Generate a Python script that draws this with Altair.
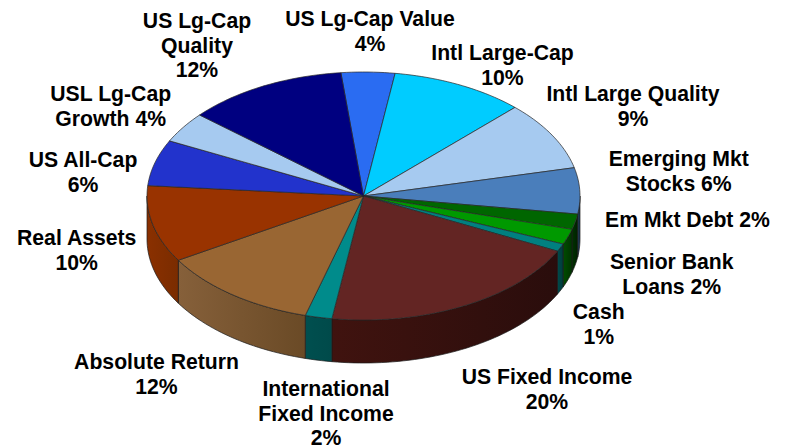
import math
import altair as alt

# ---- chart values ----
NAMES = ["US Lg-Cap Value", "Intl Large-Cap", "Intl Large Quality", "Emerging Mkt Stocks",
         "Em Mkt Debt", "Senior Bank Loans", "Cash", "US Fixed Income", "International Fixed Income",
         "Absolute Return", "Real Assets", "US All-Cap", "USL Lg-Cap Growth", "US Lg-Cap Quality"]
SHARES = [4, 10, 9, 6, 2, 2, 1, 20, 2, 12, 10, 6, 4, 12]
LABELS = ["US Lg-Cap Value\n4%", "Intl Large-Cap\n10%", "Intl Large Quality\n9%", "Emerging Mkt\nStocks 6%",
          "Em Mkt Debt 2%", "Senior Bank\nLoans 2%", "Cash\n1%", "US Fixed Income\n20%",
          "International\nFixed Income\n2%", "Absolute Return\n12%", "Real Assets\n10%", "US All-Cap\n6%",
          "USL Lg-Cap\nGrowth 4%", "US Lg-Cap\nQuality\n12%"]
TOP_COLORS = ["#2a6cf2", "#00ccff", "#a6caf0", "#4a7ebb", "#006600", "#009900", "#008080",
              "#632523", "#008b8b", "#996633", "#993300", "#2233cc", "#a6caf0", "#000080"]
WALL_LEFT = ["#1a3fa0", "#007a99", "#64798f", "#2a4a70", "#003300", "#004d00", "#004a4a",
             "#40130f", "#004f4f", "#86603a", "#8a3000", "#142080", "#64798f", "#000050"]
WALL_RIGHT = ["#1a3fa0", "#007a99", "#64798f", "#1a3048", "#001f00", "#003300", "#003c3c",
              "#2a0d0c", "#004a4a", "#6a4a26", "#7a2c00", "#142080", "#64798f", "#000050"]

# ---- layout of the tilted pie (pixels of the chart area) ----
OFF = 8
CX, CY = 363.5 - OFF, 196 - OFF
RX, RY = 216.5, 124
DEPTH = 43
START = -6
LABEL_XY = [(370, 20), (502.5, 54), (633, 95), (678.7, 160), (687.5, 221), (671.7, 263), (598.7, 313),
            (547, 378), (326, 390), (156.5, 363), (76.7, 239), (83, 161), (110.7, 95), (197, 22)]


def rim(theta, dy=0):
    a = math.radians(theta)
    return [CX + RX * math.sin(a), CY - RY * math.cos(a) + dy]


def arc(a, b):
    n = max(2, int((b - a) / 1.5) + 1)
    return [a + (b - a) * i / n for i in range(n + 1)]


tops, walls = [], []
cum = 0
for name, share, tc, wl, wr in zip(NAMES, SHARES, TOP_COLORS, WALL_LEFT, WALL_RIGHT):
    a = START + cum * 3.6
    cum += share
    b = START + cum * 3.6
    ring = [[CX, CY]] + [rim(t) for t in arc(a, b)] + [[CX, CY]]
    tops.append({"type": "Feature", "geometry": {"type": "Polygon", "coordinates": [ring]},
                 "properties": {"name": name, "color": tc}})
    lo, hi = max(a, 90), min(b, 270)
    if lo < hi:
        ts = arc(lo, hi)
        poly = [rim(t) for t in ts] + [rim(t, DEPTH) for t in reversed(ts)]
        poly.append(poly[0])
        walls.append(({"type": "Feature", "geometry": {"type": "Polygon", "coordinates": [poly]},
                       "properties": {"name": name}}, wl, wr))

PROJ = dict(type="identity", scale=1, translate=[0, 0])

layers = []
for feat, wl, wr in walls:
    grad = alt.LinearGradient(gradient="linear", x1=0, x2=1, y1=0, y2=0,
                              stops=[alt.GradientStop(color=wl, offset=0),
                                     alt.GradientStop(color=wr, offset=1)])
    layers.append(alt.Chart(alt.Data(values=[feat])).mark_geoshape(
        fill=grad, stroke="#1a1a1a", strokeWidth=0.7).project(**PROJ))

layers.append(alt.Chart(alt.Data(values=tops)).mark_geoshape(
    stroke="#262626", strokeWidth=0.7).encode(
    fill=alt.Fill("properties.color:N", scale=None)).project(**PROJ))

text_rows = [{"label": l, "lon": x - OFF, "lat": y - OFF} for l, (x, y) in zip(LABELS, LABEL_XY)]
layers.append(alt.Chart(alt.Data(values=text_rows)).mark_text(
    font="Liberation Sans", fontWeight="bold", fontSize=21.2, lineHeight=24.5, lineBreak="\n",
    align="center", baseline="middle", color="#000000").encode(
    longitude="lon:Q", latitude="lat:Q", text="label:N").project(**PROJ))

chart = alt.layer(*layers).properties(
    width=770, height=440, padding=0, background="#ffffff"
).configure_view(stroke=None)

chart.save("out.html", embed_options={"renderer": "svg", "actions": False})
